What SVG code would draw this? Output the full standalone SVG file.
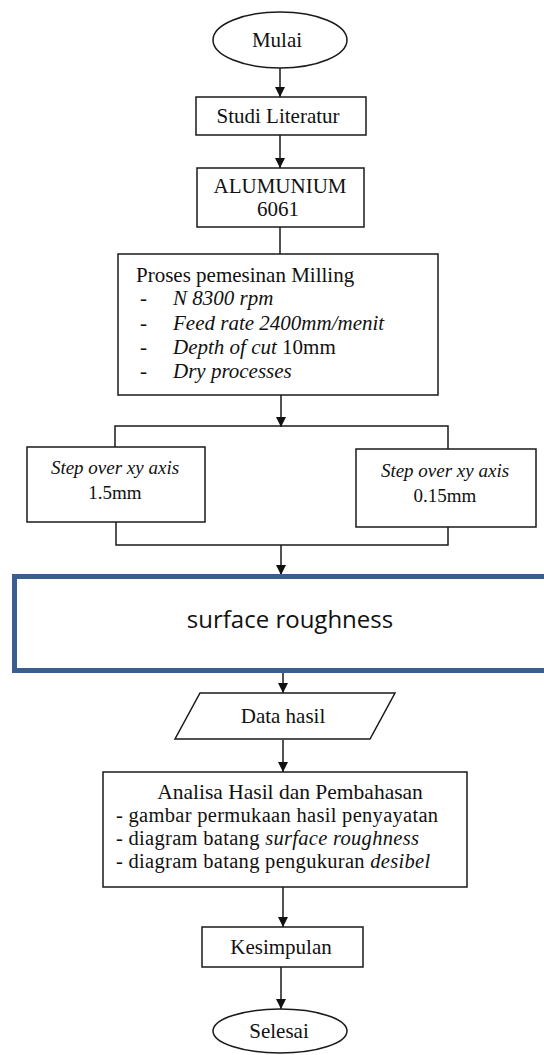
<svg xmlns="http://www.w3.org/2000/svg" width="544" height="1055" viewBox="0 0 544 1055">
<defs>
<marker id="ah" viewBox="0 0 10 10" refX="10" refY="5" markerWidth="10" markerHeight="10" markerUnits="userSpaceOnUse" orient="auto">
<path d="M0,0 L10,5 L0,10 Z" fill="#111"/>
</marker>
<style>
.b{fill:#fff;stroke:#1a1a1a;stroke-width:1.5}
.c{fill:none;stroke:#1a1a1a;stroke-width:1.5}
.t{font-family:"Liberation Serif","Times New Roman",serif;font-size:21px;fill:#111}
.s{font-size:19px}
.l{font-size:20.5px;letter-spacing:0.3px}
.m{text-anchor:middle}
.i{font-style:italic}
</style>
</defs>
<rect width="544" height="1055" fill="#fff"/>
<g id="connectors">
<line class="c" x1="280" y1="68" x2="280" y2="97" marker-end="url(#ah)"/>
<line class="c" x1="280" y1="135" x2="280" y2="168" marker-end="url(#ah)"/>
<line class="c" x1="280" y1="227" x2="280" y2="254"/>
<line class="c" x1="281" y1="395" x2="281" y2="427" marker-end="url(#ah)"/>
<polyline class="c" points="115,447 115,426 448,426 448,449"/>
<polyline class="c" points="116,522 116,545 448,545 448,527"/>
<line class="c" x1="281" y1="545" x2="281" y2="575" marker-end="url(#ah)"/>
<line class="c" x1="283" y1="673" x2="283" y2="693" marker-end="url(#ah)"/>
<line class="c" x1="283" y1="740" x2="283" y2="772" marker-end="url(#ah)"/>
<line class="c" x1="283" y1="887" x2="283" y2="927" marker-end="url(#ah)"/>
<line class="c" x1="281" y1="967" x2="281" y2="1009" marker-end="url(#ah)"/>
</g>
<g id="mulai">
<ellipse class="b" cx="280" cy="40" rx="67" ry="28"/>
<text class="t m" x="277" y="47">Mulai</text>
</g>
<g id="studi">
<rect class="b" x="196" y="97" width="170" height="38"/>
<text class="t m" x="278" y="123">Studi Literatur</text>
</g>
<g id="alumunium">
<rect class="b" x="197" y="168" width="167" height="59"/>
<text class="t m" x="280" y="193">ALUMUNIUM</text>
<text class="t m" x="278" y="216">6061</text>
</g>
<g id="proses">
<rect class="b" x="118" y="254" width="320" height="141"/>
<text class="t" x="136" y="282">Proses pemesinan Milling</text>
<text class="t" x="140" y="305">-</text><text class="t i" x="173" y="305">N 8300 rpm</text>
<text class="t" x="140" y="330">-</text><text class="t i" x="173" y="330">Feed rate 2400mm/menit</text>
<text class="t" x="140" y="354">-</text><text class="t" x="173" y="354"><tspan class="i">Depth of cut</tspan> 10mm</text>
<text class="t" x="140" y="378">-</text><text class="t i" x="173" y="378">Dry processes</text>
</g>
<g id="step1">
<rect class="b" x="27" y="447" width="178" height="75"/>
<text class="t s m i" x="115" y="474">Step over xy axis</text>
<text class="t s m" x="115" y="499">1.5mm</text>
</g>
<g id="step2">
<rect class="b" x="356" y="449" width="180" height="78"/>
<text class="t s m i" x="445" y="477">Step over xy axis</text>
<text class="t s m" x="445" y="502">0.15mm</text>
</g>
<g id="surface">
<rect x="14.5" y="576.5" width="560" height="94" fill="#fff" stroke="#3A5F8F" stroke-width="5"/>
<text x="290" y="628" text-anchor="middle" style="font-family:'Open Sans','Liberation Sans',sans-serif;font-size:24px;fill:#111">surface roughness</text>
</g>
<g id="data">
<polygon class="b" points="200,693 395,693 370,739 175,739"/>
<text class="t m" x="283" y="723">Data hasil</text>
</g>
<g id="analisa">
<rect class="b" x="103" y="772" width="364" height="115"/>
<text class="t m" x="290" y="799" style="font-size:21.5px">Analisa Hasil dan Pembahasan</text>
<text class="t l" x="116" y="822">- gambar permukaan hasil penyayatan</text>
<text class="t l" x="116" y="845">- diagram batang <tspan class="i">surface roughness</tspan></text>
<text class="t l" x="116" y="868">- diagram batang pengukuran <tspan class="i">desibel</tspan></text>
</g>
<g id="kesimpulan">
<rect class="b" x="202" y="927" width="161" height="40"/>
<text class="t m" x="281" y="954">Kesimpulan</text>
</g>
<g id="selesai">
<ellipse class="b" cx="280" cy="1031" rx="67" ry="22"/>
<text class="t m" x="279" y="1038">Selesai</text>
</g>
</svg>
